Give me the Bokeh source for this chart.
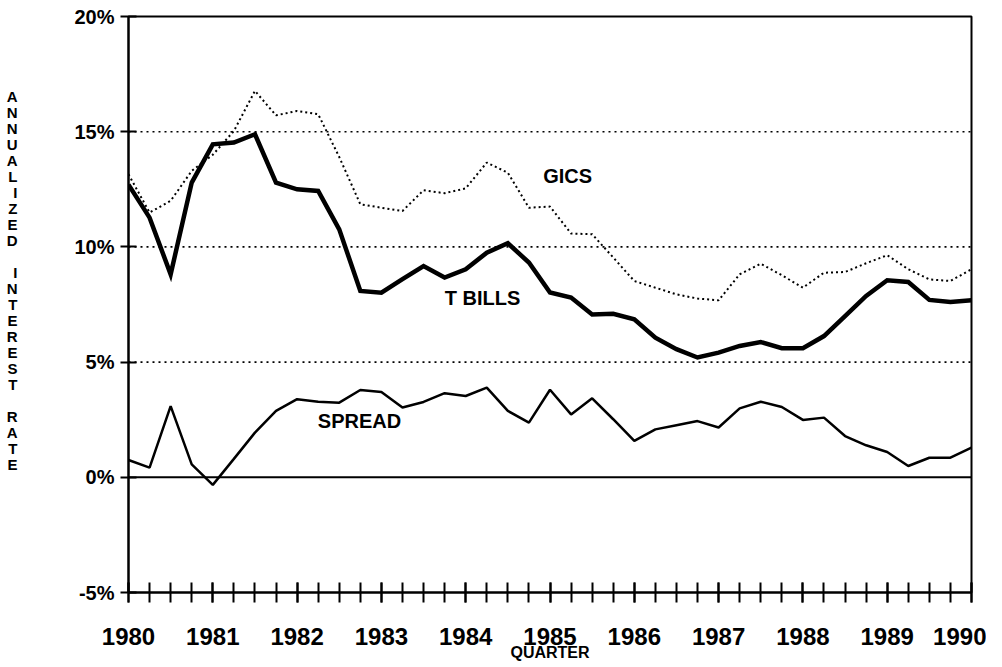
from bokeh.plotting import figure
from bokeh.models import Range1d, FixedTicker, PrintfTickFormatter, Span, Label, ColumnDataSource
from bokeh.embed import file_html
from bokeh.resources import INLINE

# ---- data (quarterly, 1980Q1 .. 1990Q1) ----
start_year = 1980
n_quarters = 41
quarter = [start_year + i * 0.25 for i in range(n_quarters)]

t_bills = [12.7, 11.27, 8.81, 12.79, 14.45, 14.53, 14.89, 12.79, 12.5, 12.43,
           10.76, 8.09, 8.01, 8.6, 9.17, 8.67, 9.03, 9.75, 10.16, 9.32,
           8.02, 7.8, 7.07, 7.1, 6.86, 6.06, 5.56, 5.2, 5.41, 5.7,
           5.87, 5.6, 5.6, 6.13, 7.0, 7.87, 8.55, 8.48, 7.7, 7.61, 7.68]

gics = [13.15, 11.49, 12.0, 13.3, 14.0, 15.03, 16.77, 15.71, 15.9, 15.76,
        13.9, 11.85, 11.7, 11.56, 12.46, 12.33, 12.54, 13.66, 13.22, 11.7,
        11.75, 10.58, 10.55, 9.54, 8.52, 8.23, 7.94, 7.76, 7.68, 8.81,
        9.27, 8.77, 8.23, 8.88, 8.91, 9.29, 9.64, 9.03, 8.59, 8.52, 9.03]

spread = [0.75, 0.42, 3.09, 0.56, -0.33, 0.8, 1.94, 2.88, 3.39, 3.28,
          3.24, 3.79, 3.7, 3.03, 3.27, 3.65, 3.53, 3.89, 2.88, 2.37,
          3.8, 2.73, 3.43, 2.52, 1.58, 2.08, 2.26, 2.44, 2.16, 2.99,
          3.28, 3.05, 2.49, 2.59, 1.79, 1.39, 1.1, 0.49, 0.85, 0.85, 1.29]

year_ticks = list(range(1980, 1991))
y_ticks = [-5, 0, 5, 10, 15, 20]
grid_levels = [5, 10, 15]
y_title = "ANNUALIZED INTEREST RATE"
x_title = "QUARTER"

FONT = "Liberation Sans"

src = ColumnDataSource(dict(q=quarter, tb=t_bills, gi=gics, sp=spread))

p = figure(frame_width=843, frame_height=576,
           x_range=Range1d(1980, 1990), y_range=Range1d(-5, 20),
           output_backend="svg", toolbar_location=None,
           min_border_left=128, min_border_right=15,
           min_border_top=16, min_border_bottom=72,
           background_fill_color="white", border_fill_color="white")

p.xgrid.grid_line_color = None
p.ygrid.grid_line_color = None
p.outline_line_color = "black"
p.outline_line_width = 2
p.outline_line_alpha = 1

# gridlines
for lv in grid_levels:
    p.add_layout(Span(location=lv, dimension="width", line_color="black",
                      line_width=1.6, line_dash="2 4"))
p.add_layout(Span(location=0, dimension="width", line_color="black", line_width=2))

# series
p.line("q", "gi", source=src, line_color="black", line_width=2, line_dash="2 3")
p.line("q", "tb", source=src, line_color="black", line_width=4.5, line_join="miter")
p.line("q", "sp", source=src, line_color="black", line_width=2.5)

# x axis
xa = p.xaxis[0]
xa.ticker = FixedTicker(ticks=year_ticks, minor_ticks=quarter)
xa.axis_line_width = 2
xa.major_tick_line_width = 2
xa.minor_tick_line_width = 2
xa.major_tick_in = 10
xa.major_tick_out = 10
xa.minor_tick_in = 10
xa.minor_tick_out = 10
xa.major_label_standoff = 25
xa.major_label_text_font = FONT
xa.major_label_text_font_style = "bold"
xa.major_label_text_font_size = "24px"
xa.major_label_text_color = "black"
xa.axis_label = x_title
xa.axis_label_text_font = FONT
xa.axis_label_text_font_style = "bold"
xa.axis_label_text_font_size = "16px"
xa.axis_label_text_color = "black"
xa.axis_label_standoff = -4

# y axis
ya = p.yaxis[0]
ya.ticker = FixedTicker(ticks=y_ticks)
ya.formatter = PrintfTickFormatter(format="%d%%")
ya.axis_line_width = 2
ya.major_tick_line_width = 2
ya.major_tick_in = 8
ya.major_tick_out = 8
ya.minor_tick_line_color = None
ya.major_label_standoff = 6
ya.major_label_text_font = FONT
ya.major_label_text_font_style = "bold"
ya.major_label_text_font_size = "20px"
ya.major_label_text_color = "black"

# stacked y title (one letter per line, blank line between words)
stack = []
for w, word in enumerate(y_title.split(" ")):
    if w > 0:
        stack.append(" ")
    stack.extend(list(word))
stack.extend([" ", " ", " "])
ya.axis_label = "\n".join(stack)
ya.axis_label_orientation = "horizontal"
ya.axis_label_text_font = FONT
ya.axis_label_text_font_style = "bold"
ya.axis_label_text_font_size = "15px"
ya.axis_label_text_line_height = 0.94
ya.axis_label_text_color = "black"
ya.axis_label_standoff = 54

# series labels
for txt, x, y in [("GICS", 1985.21, 13.06), ("T BILLS", 1984.2, 7.77), ("SPREAD", 1982.74, 2.43)]:
    p.add_layout(Label(x=x, y=y, text=txt, text_font=FONT, text_font_style="bold",
                       text_font_size="20px", text_align="center", text_baseline="middle",
                       text_color="black"))

open("out.html", "w").write(file_html(p, INLINE))
